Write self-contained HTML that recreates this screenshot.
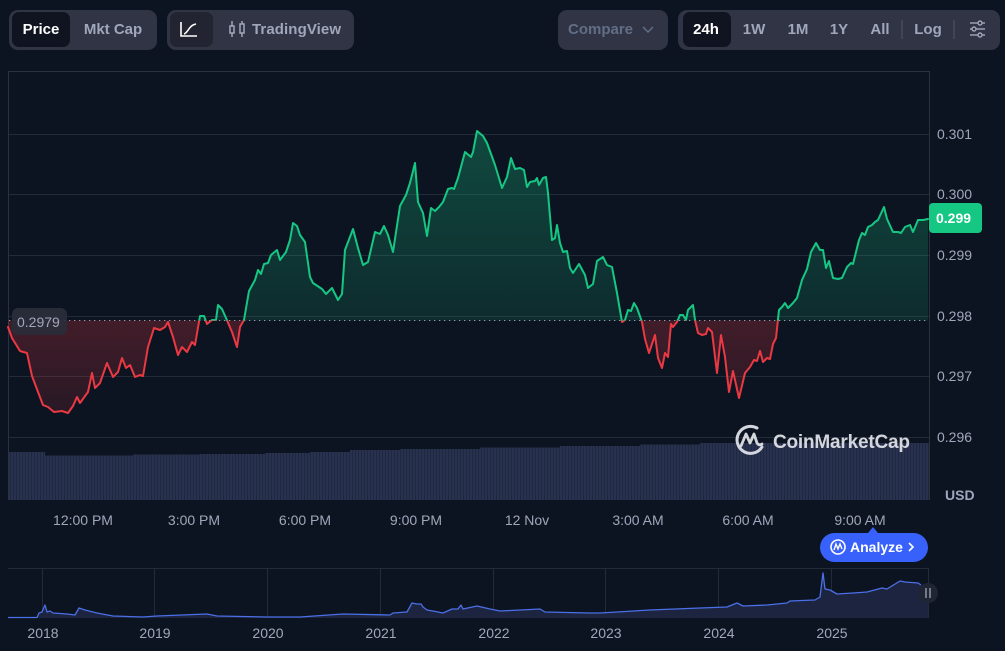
<!DOCTYPE html>
<html><head><meta charset="utf-8"><style>
html,body{margin:0;padding:0;background:#0d1421;}
svg{display:block;font-family:"Liberation Sans",Arial,sans-serif;}
</style></head><body>
<svg width="1005" height="651" viewBox="0 0 1005 651" xmlns="http://www.w3.org/2000/svg">
<defs>
<linearGradient id="gg" x1="0" y1="130" x2="0" y2="320" gradientUnits="userSpaceOnUse">
<stop offset="0" stop-color="#16c784" stop-opacity="0.30"/>
<stop offset="1" stop-color="#16c784" stop-opacity="0.13"/>
</linearGradient>
<linearGradient id="rg" x1="0" y1="320" x2="0" y2="415" gradientUnits="userSpaceOnUse">
<stop offset="0" stop-color="#ea3943" stop-opacity="0.24"/>
<stop offset="1" stop-color="#ea3943" stop-opacity="0.12"/>
</linearGradient>
<clipPath id="ca"><rect x="0" y="60" width="930" height="260.5"/></clipPath>
<clipPath id="cb"><rect x="0" y="320.5" width="930" height="200"/></clipPath>
<pattern id="vp" x="8" y="0" width="3" height="10" patternUnits="userSpaceOnUse">
<rect x="0" y="0" width="3" height="10" fill="#1c2336"/>
<rect x="0" y="0" width="2.3" height="10" fill="#28314f"/>
</pattern>
</defs>
<rect width="1005" height="651" fill="#0d1421"/>

<!-- toolbar group 1 -->
<rect x="9" y="10" width="148" height="40" rx="9" fill="#313445"/>
<rect x="12" y="12" width="58" height="35" rx="7" fill="#0f1420"/>
<text x="41" y="34" fill="#ffffff" font-size="15" font-weight="bold" text-anchor="middle">Price</text>
<text x="113" y="34" fill="#a1a7bb" font-size="15" font-weight="bold" text-anchor="middle">Mkt Cap</text>

<!-- toolbar group 2 -->
<rect x="167" y="10" width="187" height="40" rx="9" fill="#313445"/>
<rect x="170" y="12" width="43" height="35" rx="7" fill="#222531"/>
<path d="M181,22 V36 H197" stroke="#fff" stroke-width="1.6" fill="none"/>
<path d="M184,34 C188,33 189,25 196,24" stroke="#fff" stroke-width="1.6" fill="none"/>
<g stroke="#a1a7bb" stroke-width="1.5" fill="none">
<line x1="232" y1="21" x2="232" y2="37"/><rect x="230" y="26" width="4" height="7" fill="#313445"/>
<line x1="242" y1="21" x2="242" y2="37"/><rect x="240" y="24" width="4" height="9" fill="#313445"/>
</g>
<text x="252" y="34" fill="#a1a7bb" font-size="15" font-weight="bold" textLength="89">TradingView</text>

<!-- compare -->
<rect x="558" y="10" width="110" height="40" rx="9" fill="#313445"/>
<text x="568" y="34" fill="#616e85" font-size="15" font-weight="bold" textLength="65">Compare</text>
<path d="M643,27 L648,32 L653,27" stroke="#616e85" stroke-width="1.5" fill="none"/>

<!-- group 3 -->
<rect x="678" y="10" width="322" height="40" rx="9" fill="#313445"/>
<rect x="683" y="12" width="48" height="35" rx="7" fill="#0f1420"/>
<text x="706" y="34" fill="#ffffff" font-size="15" font-weight="bold" text-anchor="middle">24h</text>
<text x="754" y="34" fill="#a1a7bb" font-size="15" font-weight="bold" text-anchor="middle">1W</text>
<text x="798" y="34" fill="#a1a7bb" font-size="15" font-weight="bold" text-anchor="middle">1M</text>
<text x="839" y="34" fill="#a1a7bb" font-size="15" font-weight="bold" text-anchor="middle">1Y</text>
<text x="880" y="34" fill="#a1a7bb" font-size="15" font-weight="bold" text-anchor="middle">All</text>
<line x1="902" y1="20" x2="902" y2="39" stroke="#50566a" stroke-width="1"/>
<text x="928" y="34" fill="#a1a7bb" font-size="15" font-weight="bold" text-anchor="middle">Log</text>
<line x1="954" y1="20" x2="954" y2="39" stroke="#50566a" stroke-width="1"/>
<g stroke="#a1a7bb" stroke-width="1.4" fill="#313445">
<line x1="970" y1="23" x2="985" y2="23"/><line x1="970" y1="29" x2="985" y2="29"/><line x1="970" y1="35" x2="985" y2="35"/>
<circle cx="980" cy="23" r="2"/><circle cx="974" cy="29" r="2"/><circle cx="980" cy="35" r="2"/>
</g>

<!-- chart frame & grid -->
<g stroke="#232a38" stroke-width="1">
<line x1="8" y1="134.5" x2="929" y2="134.5"/>
<line x1="8" y1="194.5" x2="929" y2="194.5"/>
<line x1="8" y1="255.5" x2="929" y2="255.5"/>
<line x1="8" y1="316.5" x2="929" y2="316.5"/>
<line x1="8" y1="376.5" x2="929" y2="376.5"/>
<line x1="8" y1="437.5" x2="929" y2="437.5"/>
</g>
<path d="M8.5,500 V71.5 H929.5 V500" stroke="#2a3140" stroke-width="1" fill="none"/>

<!-- volume -->
<path d="M9,500 V452 H45 V455.5 H133 V454.5 H200 V454 H265 V453 H310 V452 H350 V450 H400 V449 H480 V447.5 H560 V446 H640 V444.5 H700 V443 H929 V500 Z" fill="url(#vp)"/>

<!-- price area -->
<g id="pa">
<path clip-path="url(#ca)" fill="url(#gg)" d="M8,320.5 L8,327 12,338 20,351 27,353 32,376 38,392 43,405 48,407 54,412 62,411 68,413 73,406 77,397 80,403 88,392 92,373 95,388 100,383 107,363 113,377 118,372 122,358 126,368 130,365 135,377 140,375 143,376 148,347 154,328 160,330 165,327 168,322 173,337 178,355 182,347 187,352 192,342 195,345 200,316 204,316 207,324 212,320 216,320 218,305 222,309 226,318 232,332 237,347 240,327 244,320 249,291 255,280 258,270 261,274 264,264 268,263 271,255 277,250 280,260 286,252 290,240 293,223 297,226 300,235 305,242 310,277 313,283 322,289 326,294 332,288 338,300 342,294 345,250 353,229 358,248 363,265 368,262 375,232 380,234 384,226 388,235 393,252 400,206 406,195 410,183 415,163 418,202 423,213 427,236 431,208 435,211 439,207 443,202 448,189 452,188 454,189 458,178 465,152 471,157 473,152 477,131 483,136 487,143 495,165 502,188 507,177 511,158 515,169 520,168 524,170 527,187 530,182 535,181 537,178 539,185 543,178 546,177 548,193 552,240 555,238 557,225 560,243 563,252 567,251 570,268 573,273 579,264 585,275 588,288 593,284 597,261 603,257 607,265 612,267 617,293 622,322 625,320 628,310 631,311 634,303 637,308 642,322 645,339 649,353 655,335 658,358 662,368 665,353 668,357 671,324 673,327 677,322 680,315 683,315 686,320 688,310 693,305 695,320 698,333 702,335 706,334 708,328 712,332 717,373 721,335 725,357 729,392 733,371 739,398 745,373 750,367 754,360 757,361 760,351 763,362 767,358 770,359 773,344 776,338 779,310 782,307 785,303 788,308 793,303 797,298 802,280 807,269 811,252 816,243 820,250 823,250 826,268 829,261 833,278 838,279 842,278 847,267 851,263 853,264 859,240 862,233 865,235 868,227 872,225 875,222 878,220 884,207 887,219 893,232 898,232 901,233 905,227 910,225 913,232 918,220 923,220 928,219 L928,320.5 Z"/>
<path clip-path="url(#cb)" fill="url(#rg)" d="M8,320.5 L8,327 12,338 20,351 27,353 32,376 38,392 43,405 48,407 54,412 62,411 68,413 73,406 77,397 80,403 88,392 92,373 95,388 100,383 107,363 113,377 118,372 122,358 126,368 130,365 135,377 140,375 143,376 148,347 154,328 160,330 165,327 168,322 173,337 178,355 182,347 187,352 192,342 195,345 200,316 204,316 207,324 212,320 216,320 218,305 222,309 226,318 232,332 237,347 240,327 244,320 249,291 255,280 258,270 261,274 264,264 268,263 271,255 277,250 280,260 286,252 290,240 293,223 297,226 300,235 305,242 310,277 313,283 322,289 326,294 332,288 338,300 342,294 345,250 353,229 358,248 363,265 368,262 375,232 380,234 384,226 388,235 393,252 400,206 406,195 410,183 415,163 418,202 423,213 427,236 431,208 435,211 439,207 443,202 448,189 452,188 454,189 458,178 465,152 471,157 473,152 477,131 483,136 487,143 495,165 502,188 507,177 511,158 515,169 520,168 524,170 527,187 530,182 535,181 537,178 539,185 543,178 546,177 548,193 552,240 555,238 557,225 560,243 563,252 567,251 570,268 573,273 579,264 585,275 588,288 593,284 597,261 603,257 607,265 612,267 617,293 622,322 625,320 628,310 631,311 634,303 637,308 642,322 645,339 649,353 655,335 658,358 662,368 665,353 668,357 671,324 673,327 677,322 680,315 683,315 686,320 688,310 693,305 695,320 698,333 702,335 706,334 708,328 712,332 717,373 721,335 725,357 729,392 733,371 739,398 745,373 750,367 754,360 757,361 760,351 763,362 767,358 770,359 773,344 776,338 779,310 782,307 785,303 788,308 793,303 797,298 802,280 807,269 811,252 816,243 820,250 823,250 826,268 829,261 833,278 838,279 842,278 847,267 851,263 853,264 859,240 862,233 865,235 868,227 872,225 875,222 878,220 884,207 887,219 893,232 898,232 901,233 905,227 910,225 913,232 918,220 923,220 928,219 L928,320.5 Z"/>
</g>

<!-- baseline dotted -->
<line x1="9" y1="320.5" x2="929" y2="320.5" stroke="#c8ccd6" stroke-opacity="0.75" stroke-width="1" stroke-dasharray="1.3 3.7"/>

<!-- price line -->
<g fill="none" stroke-width="2" stroke-linejoin="round" stroke-linecap="round">
<polyline clip-path="url(#ca)" stroke="#16c784" points="8,327 12,338 20,351 27,353 32,376 38,392 43,405 48,407 54,412 62,411 68,413 73,406 77,397 80,403 88,392 92,373 95,388 100,383 107,363 113,377 118,372 122,358 126,368 130,365 135,377 140,375 143,376 148,347 154,328 160,330 165,327 168,322 173,337 178,355 182,347 187,352 192,342 195,345 200,316 204,316 207,324 212,320 216,320 218,305 222,309 226,318 232,332 237,347 240,327 244,320 249,291 255,280 258,270 261,274 264,264 268,263 271,255 277,250 280,260 286,252 290,240 293,223 297,226 300,235 305,242 310,277 313,283 322,289 326,294 332,288 338,300 342,294 345,250 353,229 358,248 363,265 368,262 375,232 380,234 384,226 388,235 393,252 400,206 406,195 410,183 415,163 418,202 423,213 427,236 431,208 435,211 439,207 443,202 448,189 452,188 454,189 458,178 465,152 471,157 473,152 477,131 483,136 487,143 495,165 502,188 507,177 511,158 515,169 520,168 524,170 527,187 530,182 535,181 537,178 539,185 543,178 546,177 548,193 552,240 555,238 557,225 560,243 563,252 567,251 570,268 573,273 579,264 585,275 588,288 593,284 597,261 603,257 607,265 612,267 617,293 622,322 625,320 628,310 631,311 634,303 637,308 642,322 645,339 649,353 655,335 658,358 662,368 665,353 668,357 671,324 673,327 677,322 680,315 683,315 686,320 688,310 693,305 695,320 698,333 702,335 706,334 708,328 712,332 717,373 721,335 725,357 729,392 733,371 739,398 745,373 750,367 754,360 757,361 760,351 763,362 767,358 770,359 773,344 776,338 779,310 782,307 785,303 788,308 793,303 797,298 802,280 807,269 811,252 816,243 820,250 823,250 826,268 829,261 833,278 838,279 842,278 847,267 851,263 853,264 859,240 862,233 865,235 868,227 872,225 875,222 878,220 884,207 887,219 893,232 898,232 901,233 905,227 910,225 913,232 918,220 923,220 928,219"/>
<polyline clip-path="url(#cb)" stroke="#ea3943" points="8,327 12,338 20,351 27,353 32,376 38,392 43,405 48,407 54,412 62,411 68,413 73,406 77,397 80,403 88,392 92,373 95,388 100,383 107,363 113,377 118,372 122,358 126,368 130,365 135,377 140,375 143,376 148,347 154,328 160,330 165,327 168,322 173,337 178,355 182,347 187,352 192,342 195,345 200,316 204,316 207,324 212,320 216,320 218,305 222,309 226,318 232,332 237,347 240,327 244,320 249,291 255,280 258,270 261,274 264,264 268,263 271,255 277,250 280,260 286,252 290,240 293,223 297,226 300,235 305,242 310,277 313,283 322,289 326,294 332,288 338,300 342,294 345,250 353,229 358,248 363,265 368,262 375,232 380,234 384,226 388,235 393,252 400,206 406,195 410,183 415,163 418,202 423,213 427,236 431,208 435,211 439,207 443,202 448,189 452,188 454,189 458,178 465,152 471,157 473,152 477,131 483,136 487,143 495,165 502,188 507,177 511,158 515,169 520,168 524,170 527,187 530,182 535,181 537,178 539,185 543,178 546,177 548,193 552,240 555,238 557,225 560,243 563,252 567,251 570,268 573,273 579,264 585,275 588,288 593,284 597,261 603,257 607,265 612,267 617,293 622,322 625,320 628,310 631,311 634,303 637,308 642,322 645,339 649,353 655,335 658,358 662,368 665,353 668,357 671,324 673,327 677,322 680,315 683,315 686,320 688,310 693,305 695,320 698,333 702,335 706,334 708,328 712,332 717,373 721,335 725,357 729,392 733,371 739,398 745,373 750,367 754,360 757,361 760,351 763,362 767,358 770,359 773,344 776,338 779,310 782,307 785,303 788,308 793,303 797,298 802,280 807,269 811,252 816,243 820,250 823,250 826,268 829,261 833,278 838,279 842,278 847,267 851,263 853,264 859,240 862,233 865,235 868,227 872,225 875,222 878,220 884,207 887,219 893,232 898,232 901,233 905,227 910,225 913,232 918,220 923,220 928,219"/>
</g>

<!-- start label -->
<rect x="12" y="308" width="55" height="27" rx="6" fill="#2a2e3b" fill-opacity="0.92"/>
<text x="17" y="327" fill="#a1a7bb" font-size="14">0.2979</text>

<!-- y axis labels -->
<g fill="#a1a7bb" font-size="14">
<text x="937" y="139">0.301</text>
<text x="937" y="199">0.300</text>
<text x="937" y="260">0.299</text>
<text x="937" y="321">0.298</text>
<text x="937" y="381">0.297</text>
<text x="937" y="442">0.296</text>
<text x="945" y="500" font-weight="bold">USD</text>
</g>
<rect x="929" y="203" width="53" height="30" rx="4" fill="#16c784"/>
<text x="936" y="223" fill="#ffffff" font-size="14" font-weight="bold">0.299</text>

<!-- watermark -->
<g opacity="0.9">
<path d="M762,447 A13.5,13.5 0 1 1 757,428" stroke="#e8eaf0" stroke-width="3" fill="none" stroke-linecap="round"/>
<path d="M741,446 L746,434 L750,443 L754,434 L757,443 Q759,446 762,444" stroke="#e8eaf0" stroke-width="2.8" fill="none" stroke-linejoin="round" stroke-linecap="round"/>
<text x="773" y="448" fill="#e8eaf0" font-size="19" font-weight="bold" textLength="137">CoinMarketCap</text>
</g>

<!-- x axis labels -->
<g fill="#a1a7bb" font-size="14" text-anchor="middle">
<text x="83" y="525">12:00 PM</text>
<text x="194" y="525">3:00 PM</text>
<text x="305" y="525">6:00 PM</text>
<text x="416" y="525">9:00 PM</text>
<text x="527" y="525">12 Nov</text>
<text x="638" y="525">3:00 AM</text>
<text x="748" y="525">6:00 AM</text>
<text x="860" y="525">9:00 AM</text>
</g>

<!-- analyze button -->
<path d="M868,533 L873,527 L878,533 Z" fill="#3861fb"/>
<rect x="820" y="533" width="108" height="29" rx="14.5" fill="#3861fb"/>
<circle cx="838" cy="547" r="7" stroke="#fff" stroke-width="1.6" fill="none"/>
<path d="M834,550 L836,544 L838,549 L840,544 L842,549" stroke="#fff" stroke-width="1.4" fill="none"/>
<text x="850" y="552" fill="#ffffff" font-size="14" font-weight="bold">Analyze</text>
<path d="M909,543 L913,547 L909,551" stroke="#fff" stroke-width="1.6" fill="none"/>

<!-- mini chart -->
<g stroke="#232a38" stroke-width="1">
<line x1="8" y1="568.5" x2="928" y2="568.5"/>
<line x1="42.5" y1="568" x2="42.5" y2="618"/>
<line x1="154.5" y1="568" x2="154.5" y2="618"/>
<line x1="267.5" y1="568" x2="267.5" y2="618"/>
<line x1="380.5" y1="568" x2="380.5" y2="618"/>
<line x1="493.5" y1="568" x2="493.5" y2="618"/>
<line x1="605.5" y1="568" x2="605.5" y2="618"/>
<line x1="718.5" y1="568" x2="718.5" y2="618"/>
<line x1="831.5" y1="568" x2="831.5" y2="618"/>
<line x1="928.5" y1="568" x2="928.5" y2="618"/>
</g>
<path d="M8,618 L8,617.5 37,617.5 39,613 42,612 45,605 47,612 50,611 53,613 67,614 75,615 79,608 85,610 97,613 113,616 143,617 157,616 207,614 217,616 267,617 300,617 343,614 390,615 393,613 407,612 412,603 417,604 421,604 423,607 427,610 433,611 443,613 452,609 458,609 461,605 463,609 477,606 490,609 500,611 540,609 545,612 590,613 600,613 650,610 700,608 727,607 737,603 743,606 767,605 787,603 790,601 815,600 820,597 823,573 825,589 830,590 837,594 853,593 867,592 882,588 887,589 900,581 905,582 918,583 921,585 928,586 L928,618 Z" fill="#1d2440"/>
<polyline fill="none" stroke="#4a6fe6" stroke-width="1.3" stroke-linejoin="round" points="8,617.5 37,617.5 39,613 42,612 45,605 47,612 50,611 53,613 67,614 75,615 79,608 85,610 97,613 113,616 143,617 157,616 207,614 217,616 267,617 300,617 343,614 390,615 393,613 407,612 412,603 417,604 421,604 423,607 427,610 433,611 443,613 452,609 458,609 461,605 463,609 477,606 490,609 500,611 540,609 545,612 590,613 600,613 650,610 700,608 727,607 737,603 743,606 767,605 787,603 790,601 815,600 820,597 823,573 825,589 830,590 837,594 853,593 867,592 882,588 887,589 900,581 905,582 918,583 921,585"/>
<circle cx="928" cy="593" r="10" fill="#1f2533"/>
<line x1="926" y1="588" x2="926" y2="598" stroke="#a1a7bb" stroke-width="1.3"/>
<line x1="930" y1="588" x2="930" y2="598" stroke="#a1a7bb" stroke-width="1.3"/>

<g fill="#a1a7bb" font-size="14" text-anchor="middle">
<text x="43" y="638">2018</text>
<text x="155" y="638">2019</text>
<text x="268" y="638">2020</text>
<text x="381" y="638">2021</text>
<text x="494" y="638">2022</text>
<text x="606" y="638">2023</text>
<text x="719" y="638">2024</text>
<text x="832" y="638">2025</text>
</g>
</svg>
</body></html>
